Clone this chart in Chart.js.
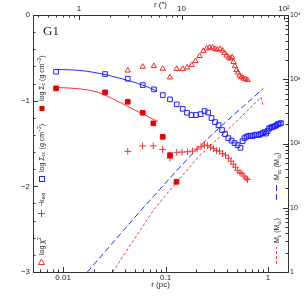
<!DOCTYPE html>
<html>
<head>
<meta charset="utf-8">
<script src="https://cdn.jsdelivr.net/npm/chart.js@4.4.1/dist/chart.umd.min.js"></script>
<style>
  html, body { margin: 0; padding: 0; background: #fff; }
  canvas { display: block; }
</style>
</head>
<body>
<canvas id="canvas" width="305" height="305"></canvas>
<script>
// radii are in pc, left-axis values are logs, right-axis values are masses (Msun)
var sigmaCcR = [0.00855, 0.0257, 0.0428, 0.0599, 0.0772, 0.0939, 0.1106, 0.1286, 0.1472, 0.162, 0.179, 0.198, 0.220, 0.240, 0.260, 0.281, 0.304, 0.329, 0.356, 0.381, 0.410, 0.441, 0.471, 0.504, 0.539, 0.564, 0.590, 0.617, 0.645, 0.675, 0.706, 0.738, 0.772, 0.808, 0.845, 0.884, 0.924, 0.956, 0.989, 1.023, 1.058, 1.094, 1.132, 1.170, 1.210, 1.252, 1.295, 1.339];
var sigmaCcVal = [-0.662, -0.689, -0.744, -0.818, -0.868, -0.935, -0.985, -1.043, -1.095, -1.141, -1.168, -1.168, -1.157, -1.121, -1.139, -1.203, -1.250, -1.285, -1.343, -1.390, -1.437, -1.466, -1.495, -1.519, -1.550, -1.472, -1.437, -1.419, -1.414, -1.408, -1.414, -1.402, -1.396, -1.402, -1.390, -1.379, -1.367, -1.384, -1.355, -1.326, -1.314, -1.308, -1.303, -1.297, -1.285, -1.273, -1.268, -1.262];

var sigmaCR = [0.00855, 0.0257, 0.0428, 0.0599, 0.0760, 0.0939, 0.1106, 0.128];
var sigmaCVal = [-0.856, -0.903, -1.013, -1.141, -1.265, -1.422, -1.636, -1.947];

var kR = [0.0428, 0.0597, 0.0760, 0.0935, 0.1106, 0.1286, 0.1449, 0.164, 0.183, 0.203, 0.222, 0.240, 0.257, 0.275, 0.294, 0.314, 0.336, 0.360, 0.385, 0.412, 0.436, 0.459, 0.482, 0.506, 0.533, 0.558, 0.583, 0.610, 0.631];
var kVal = [-1.592, -1.528, -1.528, -1.569, -1.671, -1.603, -1.600, -1.597, -1.589, -1.565, -1.536, -1.519, -1.525, -1.542, -1.560, -1.583, -1.589, -1.618, -1.636, -1.671, -1.706, -1.741, -1.776, -1.817, -1.840, -1.852, -1.881, -1.904, -1.922];

var chiR = [0.0428, 0.0599, 0.0769, 0.0939, 0.1106, 0.1286, 0.1472, 0.162, 0.180, 0.196, 0.215, 0.234, 0.252, 0.269, 0.287, 0.304, 0.320, 0.340, 0.360, 0.376, 0.394, 0.412, 0.431, 0.446, 0.461, 0.476, 0.493, 0.510, 0.527, 0.552, 0.577, 0.603, 0.631];
var chiVal = [-0.648, -0.604, -0.596, -0.627, -0.728, -0.629, -0.629, -0.613, -0.584, -0.537, -0.479, -0.421, -0.391, -0.377, -0.380, -0.397, -0.403, -0.397, -0.415, -0.444, -0.473, -0.497, -0.508, -0.491, -0.549, -0.596, -0.643, -0.672, -0.707, -0.724, -0.742, -0.748, -0.759];

// fitted profiles
var fitCcR = [0.00855, 0.0117, 0.01641, 0.02296, 0.03215, 0.0450, 0.0631, 0.0826];
var fitCcVal = [-0.637, -0.640, -0.654, -0.683, -0.724, -0.771, -0.829, -0.888];
var fitCR = [0.00855, 0.0117, 0.01641, 0.02296, 0.0308, 0.0403, 0.0564, 0.0845];
var fitCVal = [-0.847, -0.853, -0.870, -0.911, -0.981, -1.051, -1.139, -1.244];

// enclosed masses
var massCcR = [0.01726, 0.0706, 0.217, 0.900];
var massCcVal = [1, 13.09, 90.8, 719];
var massCR = [0.0305, 0.0760, 0.1286, 0.217, 0.381, 0.653, 0.781, 0.854, 0.894];
var massCVal = [1, 9.14, 25.2, 65.7, 150, 342, 456, 526, 395];

// axes
var rMin = 0.00509, rMax = 1.567;
var pcPerArcsec = 0.01432;
var xTickVals = [0.01, 0.1, 1], xTickText = ['0.01', '0.1', '1'];
var x2TickVals = [1, 10, 100], x2TickText = ['1', '10', '10\u00b2'];
var y2TickVals = [1, 10, 100, 1000, 10000], y2TickText = ['1', '10', '10\u00b2', '10\u00b3', '10\u2074'];

var FONT = '"Liberation Sans", sans-serif';
var INK = '#222';

function pts(xs, ys) {
  return xs.map(function (x, i) { return {x: x, y: ys[i]}; });
}

function logTicks(lo, hi) {
  var out = [];
  for (var d = Math.floor(Math.log10(lo)); d <= Math.ceil(Math.log10(hi)); d++) {
    for (var m = 1; m <= 9; m++) {
      var v = +(m * Math.pow(10, d)).toPrecision(6);
      if (v >= lo * 0.9999 && v <= hi * 1.0001) out.push({value: v});
    }
  }
  return out;
}

function labelFor(vals, texts) {
  return function (v) {
    for (var i = 0; i < vals.length; i++) {
      if (Math.abs(v / vals[i] - 1) < 1e-6) return texts[i];
    }
    return '';
  };
}

var tickFont = {family: FONT, size: 8};

function axisBase() {
  return {
    grid: {display: false, drawTicks: false},
    border: {display: true, color: '#333', width: 1}
  };
}

var innerTicks = {
  id: 'innerTicks',
  afterDraw: function (chart) {
    var ctx = chart.ctx, a = chart.chartArea;
    ctx.save();
    ctx.strokeStyle = '#333';
    ctx.lineWidth = 1;
    ['x', 'x2', 'y', 'y2'].forEach(function (id) {
      var s = chart.scales[id];
      s.ticks.forEach(function (t) {
        var p = s.getPixelForValue(t.value);
        var len = t.label ? 5 : 2.5;
        ctx.beginPath();
        if (id === 'x' || id === 'x2') {
          if (p < a.left + 0.5 || p > a.right - 0.5) return;
          p = Math.round(p) + 0.5;
          var yb = id === 'x' ? a.bottom : a.top;
          ctx.moveTo(p, yb);
          ctx.lineTo(p, id === 'x' ? yb - len : yb + len);
        } else {
          if (p < a.top + 0.5 || p > a.bottom - 0.5) return;
          p = Math.round(p) + 0.5;
          var xb = id === 'y' ? a.left : a.right;
          ctx.moveTo(xb, p);
          ctx.lineTo(id === 'y' ? xb + len : xb - len, p);
        }
        ctx.stroke();
      });
    });
    ctx.restore();
  }
};

function richText(ctx, x, y, segs) {
  ctx.save();
  ctx.translate(x, y);
  ctx.rotate(-Math.PI / 2);
  ctx.textAlign = 'left';
  ctx.textBaseline = 'alphabetic';
  ctx.fillStyle = INK;
  var cx = 0;
  segs.forEach(function (s) {
    ctx.font = s[1] + 'px ' + FONT;
    ctx.fillText(s[0], cx, s[2] || 0);
    cx += ctx.measureText(s[0]).width;
  });
  ctx.restore();
}

var keyLabels = {
  id: 'keyLabels',
  afterDraw: function (chart) {
    var ctx = chart.ctx;
    ctx.save();
    // panel name
    ctx.fillStyle = INK;
    ctx.font = '13px "Liberation Serif", serif';
    ctx.fillText('G1', 43, 35);

    // left key: markers with rotated text
    ctx.fillStyle = 'rgb(235,0,0)';
    ctx.fillRect(39.5, 106, 5, 5);
    richText(ctx, 43.5, 101, [['log \u03a3', 7], ['c', 5, 1.5], [' (g cm', 7], ['\u22122', 5, -3], [')', 7]]);

    ctx.strokeStyle = 'rgb(30,30,255)';
    ctx.lineWidth = 1;
    ctx.strokeRect(39.5, 176.5, 5, 5);
    richText(ctx, 43.5, 172, [['log \u03a3', 7], ['cc', 5, 1.5], [' (g cm', 7], ['\u22122', 5, -3], [')', 7]]);

    ctx.strokeStyle = 'rgb(240,50,50)';
    ctx.beginPath();
    ctx.moveTo(38, 213.5); ctx.lineTo(45, 213.5);
    ctx.moveTo(41.5, 210); ctx.lineTo(41.5, 217);
    ctx.stroke();
    richText(ctx, 43.5, 207, [['\u2212k', 7], ['ext', 5, 1.5]]);

    ctx.beginPath();
    ctx.moveTo(41.5, 259); ctx.lineTo(44.5, 264.5); ctx.lineTo(38.5, 264.5); ctx.closePath();
    ctx.stroke();
    richText(ctx, 43.5, 255, [['log \u03c7', 7], ['2', 5, -3]]);

    // right key: dashed line samples with rotated text
    ctx.strokeStyle = 'rgb(40,40,255)';
    ctx.setLineDash([6, 3]);
    ctx.beginPath();
    ctx.moveTo(276.5, 200); ctx.lineTo(276.5, 184);
    ctx.stroke();
    richText(ctx, 279, 180, [['M', 7], ['cc', 5, 1.5], [' (M', 7], ['\u2299', 5, 1.5], [')', 7]]);

    ctx.strokeStyle = 'rgb(245,60,60)';
    ctx.setLineDash([3, 2]);
    ctx.beginPath();
    ctx.moveTo(276.5, 264); ctx.lineTo(276.5, 247);
    ctx.stroke();
    richText(ctx, 279, 243, [['M', 7], ['c', 5, 1.5], [' (M', 7], ['\u2299', 5, 1.5], [')', 7]]);
    ctx.restore();
  }
};

var xScale = Object.assign(axisBase(), {
  type: 'logarithmic', position: 'bottom', min: rMin, max: rMax,
  afterBuildTicks: function (s) { s.ticks = logTicks(rMin, rMax); },
  afterFit: function (s) { s.height = 33; },
  ticks: {autoSkip: false, maxRotation: 0, padding: 1, font: tickFont, color: INK, callback: labelFor(xTickVals, xTickText)},
  title: {display: true, text: 'r (pc)', color: INK, font: {family: FONT, size: 8}, padding: {top: 0, bottom: 15}}
});

var x2Scale = Object.assign(axisBase(), {
  type: 'logarithmic', position: 'top', min: rMin / pcPerArcsec, max: rMax / pcPerArcsec,
  afterBuildTicks: function (s) { s.ticks = logTicks(rMin / pcPerArcsec, rMax / pcPerArcsec); },
  afterFit: function (s) { s.height = 15; },
  ticks: {autoSkip: false, maxRotation: 0, padding: 1, font: tickFont, color: INK, callback: labelFor(x2TickVals, x2TickText)},
  title: {display: true, text: 'r (\u2033)', color: INK, font: {family: FONT, size: 8}, padding: {top: 0, bottom: 0}}
});

var yScale = Object.assign(axisBase(), {
  type: 'linear', position: 'left', min: -3, max: 0,
  afterFit: function (s) { s.width = 33; },
  ticks: {
    stepSize: 0.2, autoSkip: false, padding: 3, font: tickFont, color: INK,
    callback: function (v) {
      var n = Math.round(v);
      if (Math.abs(v - n) > 1e-6) return '';
      return n === 0 ? '0' : '\u2212' + Math.abs(n);
    }
  }
});

var y2Scale = Object.assign(axisBase(), {
  type: 'logarithmic', position: 'right', min: 1, max: 10000,
  afterBuildTicks: function (s) { s.ticks = logTicks(1, 10000); },
  afterFit: function (s) { s.width = 17; },
  ticks: {autoSkip: false, padding: 2, font: {family: FONT, size: 7}, color: INK, callback: labelFor(y2TickVals, y2TickText)}
});

var config = {
  type: 'scatter',
  data: {
    datasets: [
      {
        label: 'log Sigma_cc', data: pts(sigmaCcR, sigmaCcVal), xAxisID: 'x', yAxisID: 'y',
        pointStyle: 'rect', pointRadius: 3.3, borderWidth: 1,
        borderColor: 'rgb(30,30,255)', backgroundColor: 'rgba(0,0,0,0)'
      },
      {
        label: 'log Sigma_c', data: pts(sigmaCR, sigmaCVal), xAxisID: 'x', yAxisID: 'y',
        pointStyle: 'rect', pointRadius: 3.3, borderWidth: 1,
        borderColor: 'rgb(235,0,0)', backgroundColor: 'rgb(235,0,0)'
      },
      {
        label: '-k', data: pts(kR, kVal), xAxisID: 'x', yAxisID: 'y',
        pointStyle: 'cross', pointRadius: 3.4, borderWidth: 1,
        borderColor: 'rgb(240,50,50)'
      },
      {
        label: 'log chi2', data: pts(chiR, chiVal), xAxisID: 'x', yAxisID: 'y',
        pointStyle: 'triangle', pointRadius: 3.1, borderWidth: 1,
        borderColor: 'rgb(240,40,40)', backgroundColor: 'rgba(0,0,0,0)'
      },
      {
        label: 'fit cc', data: pts(fitCcR, fitCcVal), xAxisID: 'x', yAxisID: 'y',
        showLine: true, pointRadius: 0, borderWidth: 1, borderColor: 'rgb(40,40,255)',
        cubicInterpolationMode: 'monotone'
      },
      {
        label: 'fit c', data: pts(fitCR, fitCVal), xAxisID: 'x', yAxisID: 'y',
        showLine: true, pointRadius: 0, borderWidth: 1, borderColor: 'rgb(245,50,50)',
        cubicInterpolationMode: 'monotone'
      },
      {
        label: 'M_cc', data: pts(massCcR, massCcVal), xAxisID: 'x', yAxisID: 'y2',
        showLine: true, pointRadius: 0, borderWidth: 1, borderColor: 'rgb(40,40,255)',
        borderDash: [6, 3], cubicInterpolationMode: 'monotone'
      },
      {
        label: 'M_c', data: pts(massCR, massCVal), xAxisID: 'x', yAxisID: 'y2',
        showLine: true, pointRadius: 0, borderWidth: 1, borderColor: 'rgb(245,60,60)',
        borderDash: [3, 2]
      }
    ]
  },
  options: {
    responsive: false,
    animation: false,
    devicePixelRatio: 1,
    events: [],
    layout: {padding: 0},
    plugins: {legend: {display: false}, tooltip: {enabled: false}},
    scales: {x: xScale, x2: x2Scale, y: yScale, y2: y2Scale}
  },
  plugins: [innerTicks, keyLabels]
};

window.onload = function () {
  window.myChart = new Chart(document.getElementById('canvas'), config);
};
</script>
</body>
</html>
